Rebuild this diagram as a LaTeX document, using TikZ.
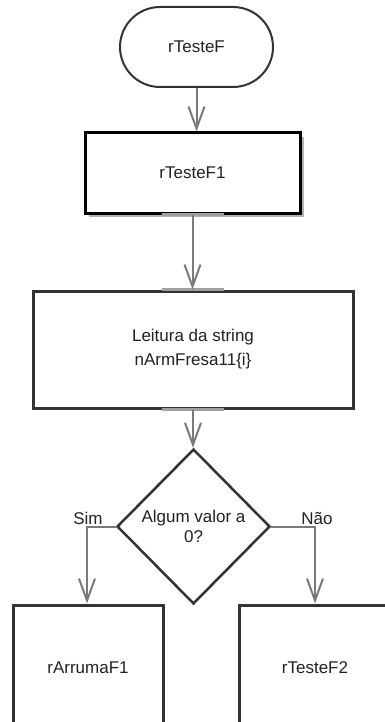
\documentclass[tikz,border=0pt]{standalone}
\usepackage{fontspec}
\setmainfont{Liberation Sans}
\usetikzlibrary{arrows.meta,shapes.geometric,shadows,calc}

\definecolor{edge}{HTML}{333333}
\definecolor{flow}{HTML}{7A7A7A}
\definecolor{port}{HTML}{A0A0A0}
\definecolor{ink}{HTML}{222222}

\tikzset{
  base/.style={text=ink, font=\fontsize{17}{20}\selectfont, align=center, inner sep=0pt},
  terminal/.style={base, draw=edge, line width=2pt, rounded corners=40pt,
    minimum width=153pt, minimum height=80pt},
  procbox/.style={base, draw=edge, line width=3pt, fill=white},
  decision/.style={base, diamond, draw=edge, line width=2.5pt, fill=white,
    minimum width=153pt, minimum height=155pt},
  flowline/.style={draw=flow, line width=2pt,
    -{Straight Barb[length=22pt,width=16pt,line width=2pt]}},
  portband/.style={draw=port, line width=3pt},
  branchlabel/.style={text=ink, font=\fontsize{17}{20}\selectfont, inner sep=1pt}
}

\begin{document}
\begin{tikzpicture}[x=1pt,y=-1pt]
  \useasboundingbox (0,0) rectangle (384,722);

  % nodes
  \node[terminal] (start) at (196.5,47) {rTesteF};
  \node[procbox, draw=black, minimum width=215pt, minimum height=80pt,
        drop shadow={shadow xshift=4pt, shadow yshift=-4pt, fill=black!30, opacity=1}]
        (f1) at (192.5,173) {rTesteF1};
  \node[procbox, minimum width=320pt, minimum height=117pt,
        font=\fontsize{17}{24}\selectfont] (read) at (193,349.5)
        {Leitura da string\\ nArmFresa11\{i\}};
  \node[decision] (dec) at (193.5,526.5) {Algum valor a\\0?};
  \node[procbox, minimum width=150pt, minimum height=126pt] (fix) at (88,668) {rArrumaF1};
  \node[procbox, minimum width=152pt, minimum height=126pt] (f2) at (315,668) {rTesteF2};

  % lighter port marks where the flow lines meet the boxes
  \draw[portband] ($(f1.south)+(-31,0)$) -- ($(f1.south)+(31,0)$);
  \draw[portband] ($(read.north)+(-31,0)$) -- ($(read.north)+(31,0)$);
  \draw[portband] ($(read.south)+(-31,0)$) -- ($(read.south)+(31,0)$);

  % connectors
  \draw[flowline] (start.south) -- (start.south |- f1.north);
  \draw[flowline] (f1.south) -- (f1.south |- read.north);
  \draw[flowline] (read.south) -- (read.south |- dec.north);
  \coordinate (simturn) at (87,526.5);
  \coordinate (naoturn) at (315,526.5);
  \draw[flowline] (dec.west) -- (simturn) -- (simturn |- fix.north);
  \draw[flowline] (dec.east) -- (naoturn) -- (naoturn |- f2.north);

  % branch labels
  \node[branchlabel, above] (simlabel) at ($(simturn)+(1,-1)$) {Sim};
  \node[branchlabel, above] (naolabel) at ($(naoturn)+(2,-1)$) {Não};
\end{tikzpicture}
\end{document}
